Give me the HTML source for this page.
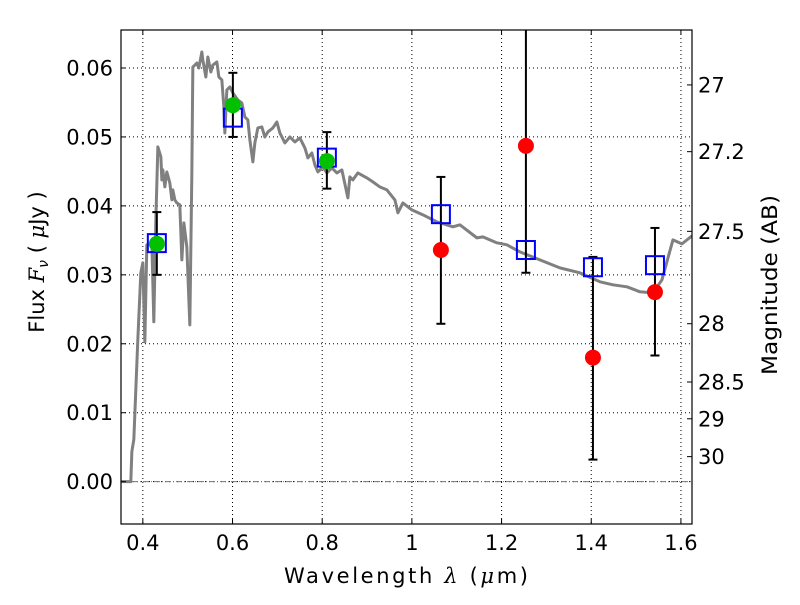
<!DOCTYPE html>
<html><head><meta charset="utf-8"><style>
body{margin:0;background:#fff}
svg text{font-family:"DejaVu Sans","Liberation Sans",sans-serif;fill:#000}
</style></head><body>
<svg id="chart" width="800" height="600" viewBox="0 0 800 600" xmlns="http://www.w3.org/2000/svg"></svg>
<script>
const specLam=[0.3487,0.3732,0.3755,0.3799,0.3888,0.3955,0.400,0.4045,0.4089,0.4201,0.4245,0.4290,0.4335,0.4402,0.4424,0.4446,0.4491,0.4535,0.4602,0.4647,0.4669,0.4714,0.4758,0.4825,0.4870,0.4915,0.4981,0.5048,0.5093,0.5115,0.5205,0.5249,0.5316,0.5338,0.5405,0.5450,0.5517,0.5561,0.5651,0.5695,0.5762,0.5807,0.5829,0.5874,0.5941,0.6008,0.6119,0.6208,0.6275,0.6342,0.6387,0.6454,0.6498,0.6565,0.6654,0.6721,0.6788,0.6900,0.6989,0.7056,0.7168,0.7279,0.7391,0.7502,0.7614,0.7681,0.7770,0.7837,0.7904,0.8015,0.8104,0.8216,0.8327,0.8439,0.8573,0.8617,0.8684,0.8796,0.8996,0.9130,0.9286,0.9443,0.9621,0.9688,0.9800,1.0000,1.0246,1.0558,1.0915,1.1071,1.1450,1.1584,1.1896,1.2119,1.2409,1.2855,1.3301,1.3748,1.4194,1.4484,1.4796,1.5086,1.5376,1.5577,1.5822,1.6023,1.6246];
const specFlux=[0,0,0.00435,0.00609,0.02058,0.03029,0.03174,0.02029,0.03435,0.03464,0.02319,0.03797,0.04855,0.04710,0.04377,0.04522,0.04275,0.04493,0.04333,0.04087,0.04232,0.04087,0.04043,0.04014,0.03217,0.03754,0.03406,0.02275,0.04478,0.06014,0.06072,0.06000,0.06232,0.06116,0.05870,0.06159,0.05942,0.06043,0.06087,0.05870,0.05826,0.05435,0.05058,0.05681,0.05725,0.05638,0.05536,0.05493,0.05290,0.05246,0.04957,0.04638,0.04913,0.05130,0.05145,0.05000,0.05072,0.05130,0.05217,0.05058,0.04913,0.05000,0.04928,0.04986,0.04841,0.04696,0.04768,0.04594,0.04493,0.04565,0.04478,0.04551,0.04478,0.04522,0.04116,0.04420,0.04377,0.04478,0.04406,0.04348,0.04275,0.04232,0.04087,0.03899,0.04043,0.03942,0.03870,0.03768,0.03696,0.03725,0.03536,0.03551,0.03464,0.03435,0.03333,0.03217,0.03101,0.03029,0.02899,0.02855,0.02826,0.02754,0.02739,0.02928,0.03507,0.03449,0.03565];
const modelLam=[0.4312,0.6008,0.8104,1.0647,1.2543,1.4038,1.5421];
const modelFlux=[0.0346,0.0528,0.0470,0.0388,0.0336,0.0311,0.0314];
const detLam=[0.4312,0.6008,0.8104];
const detFlux=[0.0345,0.0546,0.0465];
const detLo=[0.0300,0.0500,0.0425];
const detHi=[0.0391,0.0593,0.0507];
const ndLam=[1.0647,1.2543,1.4038,1.5421];
const ndFlux=[0.0336,0.0487,0.0180,0.0275];
const ndLo=[0.0229,0.0303,0.0032,0.0183];
const ndHi=[0.0442,0.0800,0.0326,0.0368];
const xTicks=[0.4,0.6,0.8,1.0,1.2,1.4,1.6];
const xTickLabels=["0.4","0.6","0.8","1","1.2","1.4","1.6"];
const yTicks=[0,0.01,0.02,0.03,0.04,0.05,0.06];
const yTickLabels=["0.00","0.01","0.02","0.03","0.04","0.05","0.06"];
const magTicks=[27,27.2,27.5,28,28.5,29,30];
const magTickLabels=["27","27.2","27.5","28","28.5","29","30"];

const L=121,R=692,T=30,B=524;
const xmin=0.3513,xmax=1.6247,ymin=-0.00614,ymax=0.06551;
const X=v=>L+(v-xmin)/(xmax-xmin)*(R-L);
const Y=v=>B-(v-ymin)/(ymax-ymin)*(B-T);
const magToFlux=m=>Math.pow(10,(23.9-m)/2.5);
const svg=document.getElementById('chart');
const NS='http://www.w3.org/2000/svg';
function mk(tag,attrs,parent){const e=document.createElementNS(NS,tag);for(const k in attrs)e.setAttribute(k,attrs[k]);(parent||svg).appendChild(e);return e;}

const defs=mk('clipPath',{id:'clip'});mk('rect',{x:L,y:T,width:R-L,height:B-T},defs);
const grid=mk('g',{});


xTicks.forEach(t=>mk('line',{x1:X(t),x2:X(t),y1:T,y2:B,stroke:'#000','stroke-width':1,'stroke-dasharray':'1,3'},grid));
yTicks.forEach(t=>mk('line',{x1:L,x2:R,y1:Y(t),y2:Y(t),stroke:'#000','stroke-width':1,'stroke-dasharray':'1,3'},grid));
const zl=mk('line',{x1:L,x2:R,y1:Y(0),y2:Y(0),stroke:'#777','stroke-width':1,'stroke-dasharray':'6,2,1,2'});



const pl=mk('polyline',{points:specLam.map((l,i)=>X(l)+','+Y(specFlux[i])).join(' '),fill:'none',stroke:'#808080','stroke-width':3,'clip-path':'url(#clip)','stroke-linejoin':'round'});



function errbar(l,lo,hi,name){
  const g=mk('g',{'clip-path':'url(#clip)'});
  
  
  mk('line',{x1:X(l),x2:X(l),y1:Y(lo),y2:Y(hi),stroke:'#000','stroke-width':2},g);
  [lo,hi].forEach(v=>mk('line',{x1:X(l)-4.5,x2:X(l)+4.5,y1:Y(v),y2:Y(v),stroke:'#000','stroke-width':2},g));
}
detLam.forEach((l,i)=>errbar(l,detLo[i],detHi[i],'detection-errorbar'));
ndLam.forEach((l,i)=>errbar(l,ndLo[i],ndHi[i],'photometry-errorbar'));
modelLam.forEach((l,i)=>{
  const r=mk('rect',{x:X(l)-9,y:Y(modelFlux[i])-9,width:18,height:18,fill:'none',stroke:'#0000ff','stroke-width':2});
  
  
});
detLam.forEach((l,i)=>{
  const c=mk('circle',{cx:X(l),cy:Y(detFlux[i]),r:8,fill:'#00c000'});
  
  
});
ndLam.forEach((l,i)=>{
  const c=mk('circle',{cx:X(l),cy:Y(ndFlux[i]),r:8,fill:'#ff0000'});
  
  
});

const frame=mk('rect',{x:L,y:T,width:R-L,height:B-T,fill:'none',stroke:'#000','stroke-width':1.2});


xTicks.forEach((t,i)=>{
  mk('line',{x1:X(t),x2:X(t),y1:B,y2:B-5,stroke:'#000'});
  mk('line',{x1:X(t),x2:X(t),y1:T,y2:T+5,stroke:'#000'});
  const tx=mk('text',{x:X(t),y:B+26,'text-anchor':'middle','font-size':21});
  tx.textContent=xTickLabels[i];
  
  
});
yTicks.forEach((t,i)=>{
  mk('line',{x1:L,x2:L+5,y1:Y(t),y2:Y(t),stroke:'#000'});
  const tx=mk('text',{x:L-8,y:Y(t)+7.5,'text-anchor':'end','font-size':21});
  tx.textContent=yTickLabels[i];
  
  
});
magTicks.forEach((m,i)=>{
  const y=Y(magToFlux(m));
  mk('line',{x1:R,x2:R-5,y1:y,y2:y,stroke:'#000'});
  const tx=mk('text',{x:R+6,y:y+7.5,'text-anchor':'start','font-size':21});
  tx.textContent=magTickLabels[i];
  
  
});
</script>
<svg width="800" height="600" style="position:absolute;left:0;top:0">
<text x="406" y="583" text-anchor="middle" font-size="21" textLength="244" lengthAdjust="spacing" style="font-family:'DejaVu Sans',sans-serif">Wavelength  <tspan font-style="italic" font-family="DejaVu Serif">λ</tspan> (<tspan font-style="italic" font-family="DejaVu Serif">μ</tspan>m)</text>
<text transform="translate(44,262) rotate(-90)" text-anchor="middle" font-size="21" style="font-family:'DejaVu Sans',sans-serif">Flux  <tspan font-style="italic" font-family="DejaVu Serif">F</tspan><tspan font-style="italic" font-size="14" dy="4">ν</tspan><tspan dy="-4">  (  </tspan><tspan font-style="italic" font-family="DejaVu Serif">μ</tspan>Jy )</text>
<text transform="translate(777,285) rotate(-90)" text-anchor="middle" font-size="21" textLength="180" lengthAdjust="spacingAndGlyphs" style="font-family:'DejaVu Sans',sans-serif">Magnitude (AB)</text>
</svg>
</body></html>
